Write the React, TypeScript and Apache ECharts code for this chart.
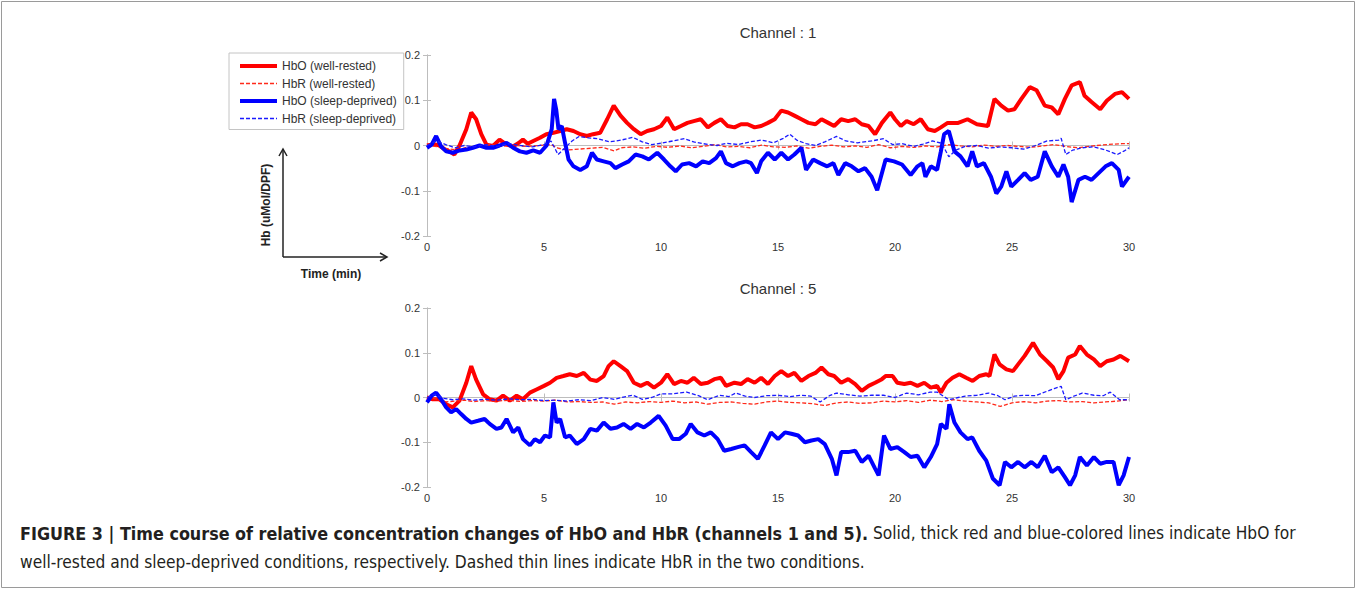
import React, { useEffect, useRef } from "react";
import * as echarts from "echarts";

const seriesNames = ["HbO (well-rested)", "HbR (well-rested)", "HbO (sleep-deprived)", "HbR (sleep-deprived)"];
const channelTitles = ["Channel : 1", "Channel : 5"];
const xTicks = { min: 0, max: 30, interval: 5 };
const yTicks = { min: -0.2, max: 0.2, interval: 0.1 };

// Channel 1
const ch1HboRested = [[0,0],[0.3,0.003],[0.53,0],[0.8,-0.01],[0.96,-0.013],[1.17,-0.02],[1.39,0],[1.68,0.036],[1.89,0.073],[2.1,0.058],[2.32,0.025],[2.54,0.002],[2.82,-0.001],[3.1,0.013],[3.4,0.002],[3.68,-0.002],[3.9,0.005],[4.1,0.013],[4.3,0.004],[4.54,0.01],[4.83,0.017],[5.1,0.025],[5.4,0.028],[5.69,0.032],[5.97,0.036],[6.26,0.032],[6.55,0.025],[6.83,0.021],[7.1,0.025],[7.4,0.028],[7.7,0.058],[7.98,0.088],[8.27,0.066],[8.55,0.05],[8.84,0.036],[9.13,0.025],[9.41,0.032],[9.7,0.036],[10,0.043],[10.27,0.062],[10.56,0.036],[10.85,0.043],[11.13,0.05],[11.4,0.054],[11.7,0.058],[12,0.04],[12.28,0.05],[12.56,0.058],[12.85,0.043],[13.14,0.04],[13.42,0.047],[13.7,0.047],[14,0.04],[14.28,0.043],[14.57,0.05],[14.86,0.058],[15.14,0.077],[15.43,0.073],[15.7,0.066],[16,0.058],[16.3,0.05],[16.6,0.047],[16.86,0.058],[17.15,0.05],[17.4,0.043],[17.7,0.058],[18,0.054],[18.3,0.058],[18.58,0.047],[18.87,0.043],[19.15,0.025],[19.44,0.05],[19.8,0.073],[20,0.058],[20.25,0.043],[20.5,0.054],[20.8,0.047],[21.1,0.058],[21.4,0.036],[21.7,0.032],[21.96,0.04],[22.25,0.05],[22.7,0.05],[23.1,0.058],[23.5,0.047],[23.97,0.043],[24.25,0.103],[24.54,0.088],[24.83,0.077],[25.1,0.08],[25.4,0.103],[25.76,0.129],[26.05,0.122],[26.4,0.088],[26.7,0.084],[26.98,0.069],[27.26,0.103],[27.55,0.133],[27.9,0.14],[28.1,0.11],[28.4,0.096],[28.77,0.08],[29.05,0.099],[29.4,0.114],[29.7,0.118],[30,0.103]];
const ch1HbrRested = [[0,0],[0.5,-0.003],[1,-0.008],[1.3,-0.01],[1.7,-0.004],[2.2,-0.002],[2.7,0.002],[3.2,-0.002],[3.7,0.001],[4.2,-0.002],[4.8,0],[5.3,0.002],[5.6,-0.006],[6,-0.01],[6.5,-0.008],[7,-0.006],[7.5,-0.004],[8,-0.012],[8.3,-0.005],[8.8,-0.003],[9.3,-0.006],[9.8,-0.002],[10.3,-0.004],[10.8,-0.001],[11.3,-0.005],[11.8,-0.002],[12.3,0.002],[12.8,-0.003],[13.3,-0.002],[13.8,-0.005],[14.3,0.001],[14.8,-0.003],[15.3,-0.004],[15.8,-0.001],[16.3,-0.006],[16.8,-0.002],[17.3,0.001],[17.8,-0.003],[18.3,-0.001],[18.8,-0.004],[19.3,0.002],[19.8,-0.005],[20.3,-0.002],[20.8,-0.004],[21.3,-0.001],[21.8,-0.003],[22.3,0.002],[22.8,-0.001],[23.3,-0.003],[23.8,0.001],[24.3,-0.002],[24.8,0],[25.3,-0.002],[25.8,-0.004],[26.3,-0.001],[26.8,0.002],[27.3,-0.002],[27.8,-0.005],[28.3,-0.002],[28.8,0.001],[29.3,0.003],[29.7,0.004],[30,0.004]];
const ch1HboDeprived = [[0,-0.005],[0.2,0.002],[0.39,0.021],[0.6,-0.002],[0.82,-0.013],[1.1,-0.016],[1.39,-0.011],[1.68,-0.009],[1.96,-0.005],[2.25,0],[2.54,-0.005],[2.82,-0.005],[3.1,0],[3.4,0.006],[3.68,-0.005],[3.97,-0.013],[4.25,-0.016],[4.54,-0.011],[4.83,-0.016],[5.11,0],[5.33,0.036],[5.43,0.103],[5.52,0.08],[5.62,0.036],[5.76,0.043],[5.9,0.006],[6.05,-0.031],[6.26,-0.046],[6.55,-0.054],[6.83,-0.046],[7.05,-0.016],[7.26,-0.031],[7.55,-0.035],[7.84,-0.039],[8.05,-0.05],[8.34,-0.042],[8.62,-0.035],[8.91,-0.02],[9.2,-0.024],[9.48,-0.031],[9.84,-0.016],[10.13,-0.031],[10.4,-0.046],[10.63,-0.057],[10.9,-0.042],[11.2,-0.039],[11.5,-0.046],[11.78,-0.035],[12.06,-0.039],[12.35,-0.028],[12.56,-0.013],[12.78,-0.039],[13.07,-0.046],[13.35,-0.039],[13.64,-0.035],[13.85,-0.039],[14.1,-0.061],[14.28,-0.035],[14.57,-0.016],[14.86,-0.031],[15.14,-0.016],[15.43,-0.031],[15.7,-0.02],[16,-0.005],[16.2,-0.054],[16.5,-0.031],[16.8,-0.039],[17.1,-0.046],[17.37,-0.039],[17.58,-0.065],[17.87,-0.039],[18.15,-0.046],[18.44,-0.057],[18.72,-0.05],[19,-0.069],[19.24,-0.099],[19.6,-0.031],[19.96,-0.035],[20.3,-0.042],[20.67,-0.065],[20.96,-0.046],[21.17,-0.039],[21.3,-0.069],[21.53,-0.046],[21.8,-0.054],[21.96,-0.013],[22.1,0.025],[22.3,0.032],[22.54,-0.013],[22.8,-0.024],[23.1,-0.046],[23.3,-0.013],[23.5,-0.046],[23.8,-0.039],[24.1,-0.069],[24.33,-0.106],[24.54,-0.091],[24.76,-0.057],[24.97,-0.091],[25.26,-0.076],[25.54,-0.061],[25.8,-0.076],[26.1,-0.069],[26.4,-0.013],[26.7,-0.046],[26.98,-0.069],[27.2,-0.042],[27.4,-0.069],[27.55,-0.125],[27.84,-0.076],[28.12,-0.069],[28.4,-0.076],[28.7,-0.061],[29,-0.046],[29.27,-0.039],[29.56,-0.054],[29.7,-0.091],[30,-0.069]];
const ch1HbrDeprived = [[0,0],[0.4,0.01],[0.8,0.002],[1.2,-0.005],[1.6,0],[2,-0.003],[2.5,0.002],[3,-0.002],[3.5,0.004],[4,0],[4.5,-0.003],[5,0.002],[5.3,0.01],[5.6,-0.02],[5.9,-0.005],[6.2,0.01],[6.5,0.02],[6.9,0.017],[7.3,0.015],[7.8,0.008],[8.3,0.012],[8.8,0.018],[9.2,0.008],[9.6,0.002],[10,0.005],[10.5,0.01],[11,0.015],[11.4,0.008],[11.8,0.004],[12.4,0],[12.8,0.005],[13.3,0.002],[13.8,0.008],[14.3,0.012],[14.8,0.006],[15.2,0.015],[15.5,0.025],[15.8,0.012],[16.2,0.004],[16.6,0],[17,0.008],[17.5,0.02],[17.9,0.01],[18.4,0.006],[19,0.01],[19.5,0.015],[19.9,0.002],[20.3,0.004],[20.8,-0.002],[21.2,0.003],[21.6,0.01],[22,0.005],[22.3,-0.025],[22.6,-0.01],[23,-0.002],[23.5,0],[24,-0.006],[24.5,-0.003],[25,-0.005],[25.5,-0.008],[26,0],[26.5,0.01],[27,0.012],[27.1,0.016],[27.3,-0.02],[27.6,-0.01],[28,-0.005],[28.5,-0.003],[29,-0.01],[29.5,-0.02],[29.8,-0.012],[30,-0.005]];

// Channel 5
const ch5HboRested = [[0,0],[0.25,-0.004],[0.53,-0.004],[0.82,-0.015],[1.1,-0.022],[1.39,-0.007],[1.68,0.033],[1.89,0.07],[2.1,0.04],[2.4,0.007],[2.68,-0.004],[2.97,-0.007],[3.25,0.004],[3.54,-0.007],[3.83,0.004],[4.1,-0.004],[4.4,0.011],[4.68,0.018],[5,0.026],[5.26,0.033],[5.54,0.044],[5.83,0.048],[6.1,0.052],[6.4,0.048],[6.7,0.055],[6.98,0.04],[7.26,0.037],[7.55,0.048],[7.76,0.07],[7.98,0.081],[8.27,0.07],[8.55,0.059],[8.84,0.033],[9.13,0.026],[9.41,0.033],[9.7,0.022],[10,0.033],[10.27,0.052],[10.56,0.03],[10.85,0.037],[11.13,0.033],[11.4,0.044],[11.7,0.03],[12,0.033],[12.28,0.041],[12.56,0.044],[12.78,0.026],[13.14,0.033],[13.42,0.03],[13.7,0.041],[14,0.033],[14.28,0.044],[14.57,0.03],[14.86,0.048],[15.14,0.059],[15.43,0.048],[15.7,0.055],[16,0.037],[16.3,0.048],[16.6,0.055],[16.86,0.067],[17.15,0.052],[17.4,0.048],[17.7,0.033],[18,0.041],[18.3,0.03],[18.58,0.015],[18.87,0.026],[19.15,0.033],[19.44,0.041],[19.6,0.048],[19.9,0.048],[20.1,0.033],[20.4,0.03],[20.67,0.033],[20.96,0.026],[21.25,0.033],[21.53,0.022],[21.8,0.026],[21.96,0.011],[22.2,0.033],[22.46,0.044],[22.75,0.052],[23.04,0.044],[23.32,0.037],[23.6,0.048],[23.9,0.052],[24.04,0.048],[24.25,0.096],[24.47,0.074],[24.76,0.063],[25.04,0.059],[25.26,0.074],[25.54,0.093],[25.9,0.122],[26.2,0.096],[26.5,0.081],[26.76,0.067],[26.98,0.041],[27.2,0.059],[27.4,0.089],[27.7,0.096],[27.9,0.115],[28.2,0.096],[28.5,0.085],[28.77,0.07],[29.05,0.081],[29.34,0.085],[29.63,0.093],[30,0.081]];
const ch5HbrRested = [[0,0],[0.4,-0.003],[0.8,-0.01],[1.2,-0.008],[1.6,-0.006],[2,-0.009],[2.5,-0.007],[3,-0.008],[3.5,-0.006],[4,-0.009],[4.5,-0.007],[5,-0.008],[5.5,-0.006],[6,-0.01],[6.5,-0.009],[7,-0.011],[7.5,-0.01],[8,-0.015],[8.5,-0.01],[9,-0.012],[9.5,-0.009],[10,-0.011],[10.5,-0.008],[11,-0.012],[11.5,-0.01],[12,-0.015],[12.5,-0.011],[13,-0.01],[13.5,-0.013],[14,-0.015],[14.5,-0.01],[15,-0.008],[15.5,-0.011],[16,-0.012],[16.5,-0.014],[17,-0.018],[17.5,-0.012],[18,-0.01],[18.5,-0.013],[19,-0.012],[19.5,-0.008],[20,-0.01],[20.5,-0.007],[21,-0.011],[21.5,-0.006],[22,-0.009],[22.5,-0.005],[23,-0.008],[23.5,-0.01],[24,-0.012],[24.5,-0.02],[25,-0.012],[25.5,-0.009],[26,-0.012],[26.5,-0.008],[27,-0.007],[27.5,-0.01],[28,-0.009],[28.5,-0.012],[29,-0.01],[29.5,-0.008],[30,-0.005]];
const ch5HboDeprived = [[0,-0.011],[0.2,0.004],[0.39,0.011],[0.6,-0.004],[0.82,-0.022],[1.03,-0.033],[1.25,-0.026],[1.46,-0.037],[1.68,-0.048],[1.89,-0.056],[2.18,-0.052],[2.46,-0.048],[2.68,-0.059],[2.97,-0.07],[3.18,-0.067],[3.4,-0.048],[3.68,-0.078],[3.9,-0.067],[4.1,-0.093],[4.4,-0.107],[4.61,-0.093],[4.83,-0.1],[5.04,-0.085],[5.26,-0.089],[5.4,-0.011],[5.54,-0.056],[5.69,-0.048],[5.9,-0.089],[6.1,-0.085],[6.4,-0.104],[6.7,-0.093],[6.98,-0.07],[7.26,-0.074],[7.55,-0.056],[7.84,-0.07],[8.12,-0.067],[8.4,-0.059],[8.7,-0.07],[8.98,-0.059],[9.27,-0.067],[9.56,-0.056],[9.9,-0.041],[10.2,-0.063],[10.5,-0.093],[10.77,-0.093],[11.06,-0.081],[11.27,-0.059],[11.56,-0.078],[11.85,-0.085],[12.13,-0.078],[12.42,-0.093],[12.7,-0.119],[13,-0.115],[13.28,-0.111],[13.57,-0.107],[13.85,-0.122],[14.14,-0.137],[14.43,-0.107],[14.7,-0.078],[15,-0.093],[15.3,-0.078],[15.57,-0.081],[15.86,-0.085],[16.15,-0.1],[16.43,-0.096],[16.72,-0.093],[17,-0.104],[17.3,-0.137],[17.5,-0.174],[17.7,-0.122],[18,-0.122],[18.3,-0.119],[18.58,-0.144],[18.87,-0.13],[19.15,-0.159],[19.3,-0.174],[19.53,-0.085],[19.8,-0.115],[20.1,-0.111],[20.4,-0.122],[20.67,-0.133],[20.96,-0.13],[21.25,-0.156],[21.53,-0.133],[21.8,-0.104],[21.96,-0.059],[22.2,-0.07],[22.32,-0.015],[22.54,-0.056],[22.8,-0.078],[23.1,-0.093],[23.3,-0.089],[23.6,-0.119],[23.9,-0.141],[24.18,-0.181],[24.47,-0.196],[24.7,-0.144],[24.97,-0.156],[25.26,-0.144],[25.54,-0.156],[25.83,-0.144],[26.1,-0.156],[26.4,-0.13],[26.7,-0.167],[26.98,-0.156],[27.26,-0.178],[27.48,-0.196],[27.7,-0.174],[27.9,-0.133],[28.2,-0.152],[28.5,-0.133],[28.77,-0.148],[29.05,-0.144],[29.34,-0.144],[29.56,-0.196],[29.77,-0.174],[30,-0.133]];
const ch5HbrDeprived = [[0,0],[0.35,0.007],[0.7,-0.002],[1.1,-0.005],[1.5,-0.003],[2,-0.006],[2.5,-0.004],[3,-0.006],[3.5,-0.003],[4,-0.005],[4.5,-0.004],[5,-0.007],[5.5,-0.006],[6,-0.008],[6.5,-0.005],[7,-0.007],[7.5,0],[8,-0.004],[8.5,0.002],[8.8,0.005],[9.2,-0.004],[9.6,0],[10,0.008],[10.5,0.008],[11.1,0.012],[11.6,0.004],[12,-0.005],[12.5,0.005],[12.9,0.002],[13.2,0.01],[13.6,0.003],[14,0],[14.5,0.004],[15,0.005],[15.5,0.002],[16,0.005],[16.4,0.003],[16.8,-0.01],[17.2,0.004],[17.5,0.01],[18,0.006],[18.5,0.003],[19,0.005],[19.5,0.005],[20,0],[20.5,0.01],[21,0.006],[21.5,0.012],[21.8,0.012],[22.3,-0.005],[22.7,0],[23,0.003],[23.5,0.005],[24,0.01],[24.4,0.004],[24.7,-0.005],[25.1,0.003],[25.5,0.005],[26,0.004],[26.3,0.01],[26.8,0.02],[27.1,0.025],[27.3,-0.005],[27.6,0.002],[28,0.01],[28.5,0.005],[28.9,0.004],[29.2,0.012],[29.6,-0.005],[30,-0.005]];

const captionBold = "FIGURE 3 | Time course of relative concentration changes of HbO and HbR (channels 1 and 5).";
const captionRest1 = " Solid, thick red and blue-colored lines indicate HbO for";
const captionLine2 = "well-rested and sleep-deprived conditions, respectively. Dashed thin lines indicate HbR in the two conditions.";

const FONT = "'Liberation Sans', Arial, Helvetica, sans-serif";
const NARROW = "'Liberation Sans Narrow', 'Arial Narrow', 'DejaVu Sans Condensed', 'Liberation Sans', sans-serif";

export default function App() {
  const ref = useRef<HTMLDivElement>(null);
  useEffect(() => {
    document.body.style.margin = "0";
    if (!ref.current) return;
    const chart = echarts.init(ref.current, null, { renderer: "svg" });
    const grids = [
      { left: 427, top: 55, width: 702, height: 181 },
      { left: 427, top: 308, width: 702, height: 179 },
    ];
    const axisLine = { show: true, lineStyle: { color: "#bdbdbd", width: 1 } };
    const tick = { show: true, inside: true, length: 4, lineStyle: { color: "#bdbdbd" } };
    const xAxes: any[] = [];
    const yAxes: any[] = [];
    grids.forEach((_, gi) => {
      xAxes.push({
        type: "value", gridIndex: gi, position: "bottom", ...xTicks,
        axisLine, axisTick: tick, splitLine: { show: false },
        axisLabel: { color: "#333", fontSize: 11, fontFamily: FONT, margin: 5 },
      });
      xAxes.push({
        type: "value", gridIndex: gi, position: "top", ...xTicks,
        axisLine, axisTick: tick, splitLine: { show: false }, axisLabel: { show: false },
      });
      yAxes.push({
        type: "value", gridIndex: gi, position: "left", ...yTicks,
        axisLine, axisTick: tick, splitLine: { show: false },
        axisLabel: { color: "#333", fontSize: 11, fontFamily: FONT, margin: 7 },
      });
      yAxes.push({
        type: "value", gridIndex: gi, position: "right", ...yTicks,
        axisLine, axisTick: tick, splitLine: { show: false }, axisLabel: { show: false },
      });
    });
    const channels = [
      [ch1HboRested, ch1HbrRested, ch1HboDeprived, ch1HbrDeprived],
      [ch5HboRested, ch5HbrRested, ch5HboDeprived, ch5HbrDeprived],
    ];
    const colors = ["#ff0000", "#ff2a1a", "#0000ff", "#1a1aff"];
    const lineStyles = colors.map((c, si) =>
      si % 2 === 0
        ? { width: 4, color: c, type: "solid" }
        : { width: 1.3, color: c, type: [4, 2] }
    );
    const series: any[] = [];
    channels.forEach((list, gi) => {
      list.forEach((data, si) => {
        series.push({
          type: "line",
          name: seriesNames[si],
          xAxisIndex: gi * 2,
          yAxisIndex: gi * 2,
          data,
          symbol: "none",
          showSymbol: false,
          color: colors[si],
          lineStyle: lineStyles[si],
          z: 2 + si,
        });
      });
    });
    chart.setOption({
      animation: false,
      backgroundColor: "#ffffff",
      textStyle: { fontFamily: FONT },
      grid: grids,
      xAxis: xAxes,
      yAxis: yAxes,
      legend: {
        data: seriesNames.map((name, si) => ({ name, lineStyle: { width: lineStyles[si].width } })),
        orient: "vertical",
        left: 229,
        top: 53,
        itemWidth: 37,
        itemHeight: 14,
        itemGap: 5.5,
        padding: [7, 7, 5, 9],
        borderColor: "#c4c4c4",
        borderWidth: 1,
        itemStyle: { opacity: 0 },
        textStyle: { fontSize: 12, color: "#333", fontFamily: FONT },
        selectedMode: false,
      },
      series,
      graphic: [
        { type: "rect", shape: { x: 1.5, y: 1.5, width: 1353, height: 586 }, style: { fill: "none", stroke: "#9a9a9a", lineWidth: 1 }, silent: true },
        { type: "text", x: 778, y: 32, style: { text: channelTitles[0], fill: "#333", font: "15px " + FONT, align: "center", verticalAlign: "middle" } },
        { type: "text", x: 778, y: 288, style: { text: channelTitles[1], fill: "#333", font: "15px " + FONT, align: "center", verticalAlign: "middle" } },
        { type: "line", shape: { x1: 283, y1: 257, x2: 283, y2: 149 }, style: { stroke: "#222", lineWidth: 1.5 } },
        { type: "polyline", shape: { points: [[279, 156], [283, 149], [287, 156]] }, style: { stroke: "#222", lineWidth: 1.5, fill: "none" } },
        { type: "line", shape: { x1: 283, y1: 257, x2: 387, y2: 257 }, style: { stroke: "#222", lineWidth: 1.5 } },
        { type: "polyline", shape: { points: [[380, 253], [387, 257], [380, 261]] }, style: { stroke: "#222", lineWidth: 1.5, fill: "none" } },
        { type: "text", x: 266, y: 205, rotation: Math.PI / 2, style: { text: "Hb (uMol/DPF)", fill: "#222", font: "bold 12px " + FONT, align: "center", verticalAlign: "middle" } },
        { type: "text", x: 331, y: 274, style: { text: "Time (min)", fill: "#222", font: "bold 12px " + FONT, align: "center", verticalAlign: "middle" } },
        {
          type: "text", x: 20, y: 533,
          style: {
            text: "{b|" + captionBold + "}{n|" + captionRest1 + "}",
            verticalAlign: "middle", align: "left",
            rich: {
              b: { fontFamily: NARROW, fontSize: 17.8, fontWeight: "bold", fill: "#231f20" },
              n: { fontFamily: NARROW, fontSize: 17.2, fontWeight: "normal", fill: "#231f20" },
            },
          },
        },
        { type: "text", x: 20, y: 562, style: { text: captionLine2, fill: "#231f20", font: "17.2px " + NARROW, align: "left", verticalAlign: "middle" } },
      ],
    });
    return () => chart.dispose();
  }, []);
  return <div ref={ref} style={{ width: 1357, height: 590 }} />;
}
